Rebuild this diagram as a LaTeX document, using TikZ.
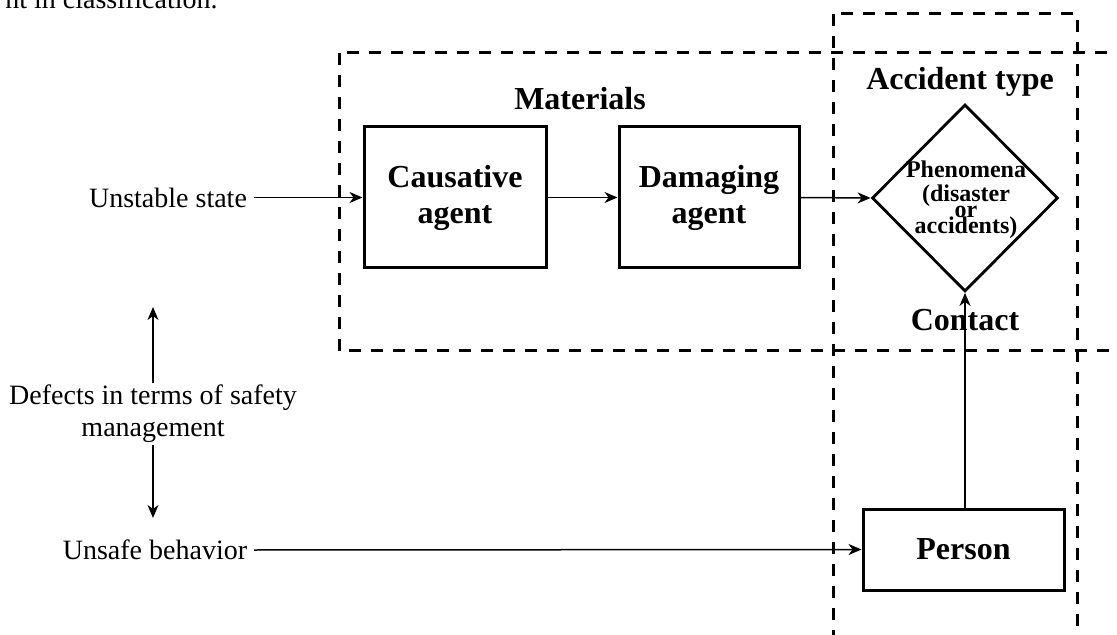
\documentclass[tikz,border=0pt]{standalone}
\usepackage{fontspec}
\setmainfont{Liberation Serif}
\usetikzlibrary{arrows.meta,shapes.geometric}

\tikzset{
  plain/.style={font=\fontsize{14}{16}\selectfont},
  title/.style={font=\fontsize{16}{18}\selectfont\bfseries},
  agentbox/.style={draw, line width=1.5pt, font=\fontsize{16}{18}\selectfont\bfseries,
    align=center, inner sep=0pt},
  group/.style={line width=1.5pt, dash pattern=on 6pt off 5pt},
  arr/.style={line width=0.75pt, -{Stealth[length=6.5pt,width=5.5pt,inset=2pt]}},
}

\begin{document}
\begin{tikzpicture}[x=0.5pt,y=-0.5pt]
\useasboundingbox (0,0) rectangle (1117,635);
\clip (0,0) rectangle (1117,635);

% caption line carried over from the page above
\node[plain, anchor=base east, inner sep=0pt] (cap) at (218,9) {nt in classification.};

% grouping frames
\draw[group] (339,53) rectangle (1140,351);
\draw[group] (833,14) rectangle (1077,660);

% group titles
\node[title] (mat) at (580,99) {Materials};
\node[title] (acc) at (960,82) {Accident type};
\node[title] (con) at (965,320) {Contact};

% main blocks
\node[agentbox, minimum width=91pt, minimum height=70.5pt] (ca) at (455,197.5) {Causative\\agent};
\node[agentbox, minimum width=90pt, minimum height=70.5pt] (da) at (709,197.5) {Damaging\\agent};
\node[draw, line width=1.4pt, diamond, minimum width=93pt, minimum height=93.5pt,
      inner sep=0pt] (ph) at (965,198) {};
\node[font=\fontsize{12}{12}\selectfont\bfseries, align=center, inner sep=0pt]
  (phtext) at (966,200) {Phenomena\\[0pt](disaster\\[-4pt]or\\[-4pt]accidents)};
\node[agentbox, minimum width=100.5pt, minimum height=40.5pt] (pe) at (963.5,549.5) {Person};

% side labels
\node[plain] (us) at (168,197.5) {Unstable state};
\node[plain] (ub) at (155,550) {Unsafe behavior};
\node[plain, align=center, inner sep=1pt] (df) at (153,414) {Defects in terms of safety\\management};
\coordinate (up) at (153,307);
\coordinate (dn) at (153,518);

% connectors
\draw[arr] (us.east) -- (ca.west);
\draw[arr] (ca.east) -- (da.west);
\draw[arr] (da.east) -- (ph.west);
\draw[arr] (ub.east) -- (pe.west);
\draw[arr] (pe.north -| ph.south) -- (ph.south);
\draw[arr] (df.north) -- (up);
\draw[arr] (df.south) -- (dn);
\end{tikzpicture}
\end{document}
